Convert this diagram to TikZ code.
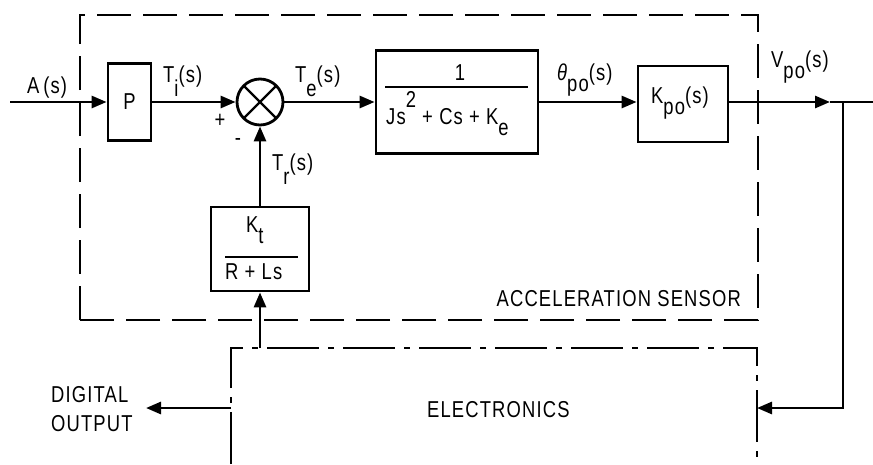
\documentclass[tikz,border=0pt]{standalone}
\usepackage{fontspec}
\setmainfont[FakeStretch=0.8,LetterSpace=5]{Liberation Sans}
\usetikzlibrary{arrows.meta}
\newcommand\lowr[1]{\raisebox{-0.62em}{#1}}
\newcommand\lowp[1]{\raisebox{-0.5em}{#1}}
\begin{document}
\begin{tikzpicture}[x=1pt,y=-1pt,font=\fontsize{23}{25}\selectfont,
  blk/.style={draw,line width=2.8pt,inner sep=0pt},
  sig/.style={line width=2.8pt},
  arr/.style={sig,-{Triangle[length=15pt,width=12pt]}},
  lbl/.style={inner sep=0pt},
  sensbox/.style={line width=2pt,dash pattern=on 34pt off 12pt},
  elbox/.style={line width=2pt,dash pattern=on 52pt off 9pt on 6pt off 9pt}]
\useasboundingbox (0,0) rectangle (873,464);

% sensor box
\draw[sensbox] (80,320) -- (80,15) -- (758,15) -- (758,320) -- cycle;

% blocks
\node[blk,minimum width=43pt,minimum height=77pt] (P) at (129.5,102) {P};
\node[blk,circle,minimum size=46pt,
  path picture={\draw[line width=2.2pt]
    (path picture bounding box.north west) -- (path picture bounding box.south east)
    (path picture bounding box.north east) -- (path picture bounding box.south west);}]
  (S) at (260,102) {};
\node[blk,minimum width=162pt,minimum height=103pt] (G) at (457,102) {};
\node[blk,minimum width=90pt,minimum height=76pt] (K) at (683,104) {};
\node[blk,minimum width=98pt,minimum height=84pt] (Kt) at (260,249) {};

% block contents
\node[lbl,anchor=base] (g1) at (460,80) {1};
\draw[line width=1.6pt] (385,87) -- (528,87);
\node[lbl,anchor=base west] (g2) at (386,124) {Js\raisebox{0.72em}{2} + Cs + K\lowp{e}};
\node[lbl,anchor=base west] (kpo) at (651,103) {K\lowp{po}(s)};
\node[lbl,anchor=base west] (kt1) at (246,232) {K\lowp{t}};
\draw[line width=1.6pt] (225,257) -- (298,257);
\node[lbl,anchor=base west] (kt2) at (225,279) {R + Ls};

% electronics box (open at the bottom)
\coordinate (EL) at (231,348);
\coordinate (ER) at (757,348);
\draw[elbox] (231,464) -- (EL) -- (ER) -- (757,464);
\node[lbl,anchor=base west] (el) at (427,417) {ELECTRONICS};

% coordinates for connector ends
\coordinate (in) at (10,102);
\coordinate (tip) at (830,102);
\coordinate (out) at (873,102);
\coordinate (br) at (843,102);
\coordinate (ein) at (757,408);
\coordinate (eout) at (231,408);
\coordinate (dig) at (146,408);
\coordinate (etop) at (260,348);

% connectors
\draw[arr] (in) -- (P.west);
\draw[arr] (P.east) -- (S.west);
\draw[arr] (S.east) -- (G.west);
\draw[arr] (G.east) -- (K.west |- G.east);
\draw[arr] (K.east |- G.east) -- (tip);
\draw[sig] (tip) -- (out);
\draw[arr] (br) |- (ein);
\draw[arr] (eout) -- (dig);
\draw[arr] (Kt.north) -- (S.south);
\draw[arr] (etop) -- (Kt.south);

% signal labels
\node[lbl,anchor=base west] at (27,93) {A\,(s)};
\node[lbl,anchor=base west] at (163,82) {T\lowr{i}(s)};
\node[lbl,anchor=base west] at (295,82) {T\lowr{e}(s)};
\node[lbl,anchor=base west] at (272,170) {T\lowr{r}(s)};
\node[lbl,anchor=base west] at (557,80) {\itshape θ\upshape\lowp{po}(s)};
\node[lbl,anchor=base west] at (771,67) {V\lowp{po}(s)};
\node[lbl] at (220,121) {+};
\node[lbl] at (238,142) {-};

\node[lbl,anchor=base east] at (741,306) {ACCELERATION SENSOR};
\node[lbl,anchor=base west] at (51,402) {DIGITAL};
\node[lbl,anchor=base west] at (51,431) {OUTPUT};
\end{tikzpicture}
\end{document}
